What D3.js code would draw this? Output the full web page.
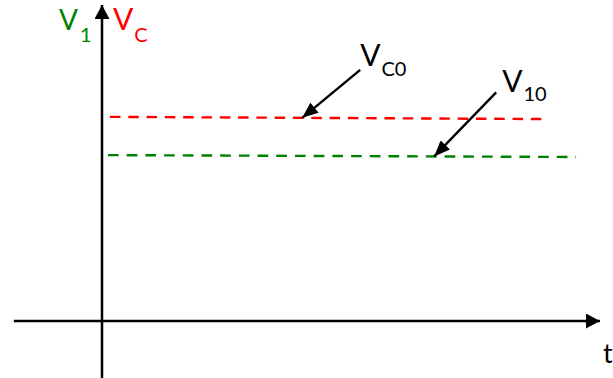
<!DOCTYPE html>
<html>
<head>
<meta charset="utf-8">
<script src="https://cdn.jsdelivr.net/npm/d3@7/dist/d3.min.js"></script>
<style>
  html, body { margin: 0; padding: 0; background: #fff; }
  svg { display: block; }
  text { font-family: Lato, "Open Sans", "Noto Sans", sans-serif; }
</style>
</head>
<body>
<svg id="chart" width="613" height="378"></svg>
<script>
// Time samples (start, end) of each dashed level, in normalised time units
const vcTimes = [0.016, 0.892];
const vcValues = [0.646, 0.639];
const v1Times = [0.012, 0.952];
const v1Values = [0.525, 0.519];

// Where each label's arrow lands on its curve
const annotationNames = ["C0", "10"];
const annotationTimes = [0.402, 0.667];

const axisLabels = ["t"];

const width = 613, height = 378;
const svg = d3.select("#chart");

const x = d3.scaleLinear().domain([0, 1]).range([102, 600]);
const y = d3.scaleLinear().domain([0, 1]).range([321, 5]);

const defs = svg.append("defs");
function marker(id, w, h) {
  defs.append("marker")
    .attr("id", id)
    .attr("viewBox", `0 0 ${w} ${h}`)
    .attr("refX", w).attr("refY", h / 2)
    .attr("markerWidth", w).attr("markerHeight", h)
    .attr("markerUnits", "userSpaceOnUse")
    .attr("orient", "auto")
    .append("path")
    .attr("d", `M0,0 L${w},${h / 2} L0,${h} Z`)
    .attr("fill", "#000");
}
marker("axisHead", 14, 15);
marker("noteHead", 16, 13);

// Axes
svg.append("line")
  .attr("x1", x(-0.177)).attr("y1", y(0))
  .attr("x2", x(1)).attr("y2", y(0))
  .attr("stroke", "#000").attr("stroke-width", 2.5)
  .attr("marker-end", "url(#axisHead)");
svg.append("line")
  .attr("x1", x(0)).attr("y1", height)
  .attr("x2", x(0)).attr("y2", y(1))
  .attr("stroke", "#000").attr("stroke-width", 2.5)
  .attr("marker-end", "url(#axisHead)");

// Dashed constant levels
const line = d3.line().x(d => x(d[0])).y(d => y(d[1]));
svg.append("path")
  .datum(d3.zip(vcTimes, vcValues))
  .attr("d", line)
  .attr("fill", "none").attr("stroke", "#ff0000")
  .attr("stroke-width", 2.4).attr("stroke-dasharray", "10.5,7.8");
svg.append("path")
  .datum(d3.zip(v1Times, v1Values))
  .attr("d", line)
  .attr("fill", "none").attr("stroke", "#008000")
  .attr("stroke-width", 2.4).attr("stroke-dasharray", "10.7,8");

// Value on a level at time t
function levelAt(times, values, t) {
  return d3.scaleLinear().domain(times).range(values)(t);
}

// Annotation arrows with their labels
const notes = [
  { name: annotationNames[0], t: annotationTimes[0], v: levelAt(vcTimes, vcValues, annotationTimes[0]),
    dx: 58, dy: -48, lx: 0, ly: -4, sub: 10 },
  { name: annotationNames[1], t: annotationTimes[1], v: levelAt(v1Times, v1Values, annotationTimes[1]),
    dx: 62, dy: -64, lx: 6, ly: 0, sub: 9 }
];
notes.forEach(n => {
  const tx = x(n.t), ty = y(n.v);
  svg.append("line")
    .attr("x1", tx + n.dx).attr("y1", ty + n.dy)
    .attr("x2", tx).attr("y2", ty)
    .attr("stroke", "#000").attr("stroke-width", 2.4)
    .attr("marker-end", "url(#noteHead)");
  const label = svg.append("text")
    .attr("x", tx + n.dx + n.lx).attr("y", ty + n.dy + n.ly)
    .attr("fill", "#000").attr("font-size", 30);
  label.append("tspan").text("V");
  label.append("tspan").attr("font-size", 20).attr("dx", 1).attr("dy", n.sub).text(n.name);
});

// Axis titles
const v1 = svg.append("text").attr("x", 59).attr("y", 30)
  .attr("fill", "#008000").attr("font-size", 28);
v1.append("tspan").text("V");
v1.append("tspan").attr("font-size", 20).attr("dx", 2).attr("dy", 12).text("1");

const vc = svg.append("text").attr("x", 113).attr("y", 30)
  .attr("fill", "#ff0000").attr("font-size", 30);
vc.append("tspan").text("V");
vc.append("tspan").attr("font-size", 20).attr("dx", 1).attr("dy", 12).text("C");

svg.append("text")
  .attr("x", 603).attr("y", 363)
  .attr("font-family", "'Liberation Sans', Arial, sans-serif")
  .attr("font-size", 27).attr("fill", "#000")
  .text(axisLabels[0]);
</script>
</body>
</html>
